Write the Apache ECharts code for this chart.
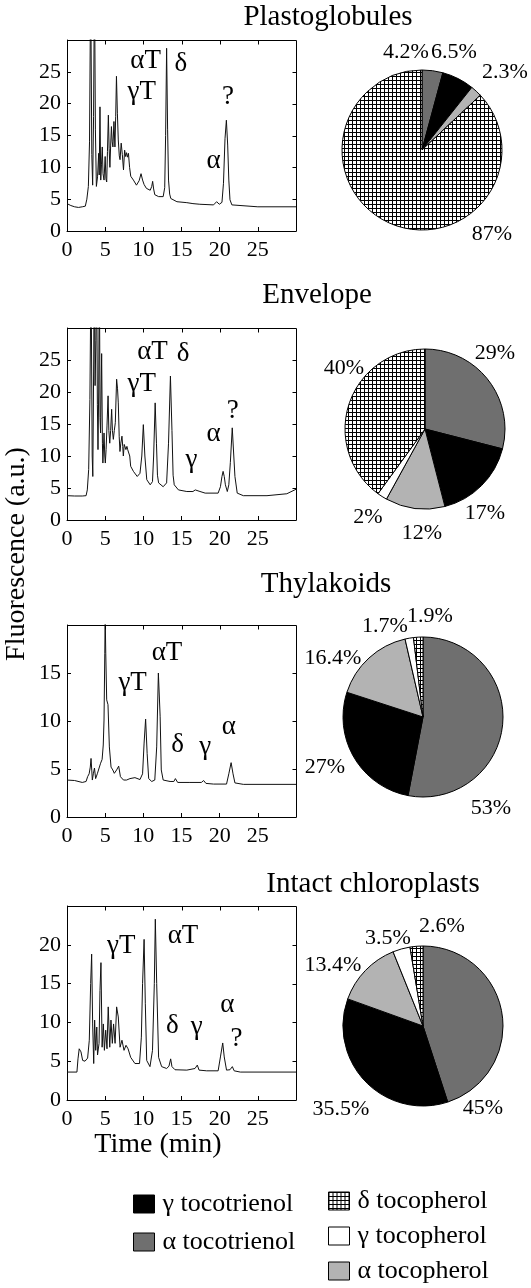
<!DOCTYPE html>
<html><head><meta charset="utf-8">
<script src="https://cdn.jsdelivr.net/npm/echarts@6/dist/echarts.min.js"></script>
<style>html,body{margin:0;padding:0;background:#fff}#c{width:531px;height:1288px}</style>
</head><body><div id="c"></div>
<script>
// ---------- DATA ----------
const componentNames = ['α tocotrienol','γ tocotrienol','α tocopherol','γ tocopherol','δ tocopherol'];
const panelTitles = ['Plastoglobules','Envelope','Thylakoids','Intact chloroplasts'];
const yAxisTitle = 'Fluorescence (a.u.)';
const xAxisTitle = 'Time (min)';
const legendLeft = ['γ tocotrienol','α tocotrienol'];
const legendRight = ['δ tocopherol','γ tocopherol','α tocopherol'];
const xTickValues = [5,10,15,20,25];

// percentages, order as componentNames (null = absent)
const pie1 = [4.2, 6.5, 2.3, null, 87];
const pie2 = [29, 17, 12, 2, 40];
const pie3 = [53, 27, 16.4, 1.7, 1.9];
const pie4 = [45, 35.5, 13.4, 3.5, 2.6];

// chromatograms [time (min), fluorescence]
const trace1 = [[0,4.3],[0.5,4.0],[1,3.8],[1.5,3.7],[2,3.8],[2.4,3.9],[2.6,5.0],[2.8,7.0],[2.95,14],[3.1,40],[3.25,12],[3.36,7.2],[3.48,18],[3.6,40],[3.72,16],[3.85,7.0],[4.0,8.5],[4.15,12.2],[4.22,8.8],[4.32,19.5],[4.42,8.0],[4.52,10.5],[4.62,13.2],[4.72,9.0],[4.85,8.0],[5.0,11.7],[5.1,8.2],[5.2,7.7],[5.3,12.5],[5.42,18.2],[5.52,13],[5.62,10.0],[5.72,13.5],[5.82,16.4],[5.92,14.0],[6.02,13.2],[6.15,17.2],[6.28,13.2],[6.38,18],[6.48,24.3],[6.6,18.5],[6.72,14.3],[6.85,11.8],[6.95,11.2],[7.1,13.8],[7.25,12.0],[7.4,9.6],[7.55,12.7],[7.68,11.7],[7.8,12.3],[7.92,11.6],[8.05,12.2],[8.2,10],[8.35,8.6],[8.7,8.0],[9.1,7.2],[9.45,7.9],[9.7,9.0],[9.9,8.0],[10.1,7.3],[10.4,6.7],[10.9,6.4],[11.1,7.0],[11.22,7.8],[11.35,6.6],[11.5,5.7],[12.0,5.4],[12.6,5.4],[12.8,6.8],[12.92,15],[13.05,28.7],[13.18,16],[13.3,8.0],[13.45,5.8],[13.6,5.1],[14.4,4.6],[15.7,4.45],[16.5,4.3],[17.4,4.2],[19.2,4.1],[19.6,4.6],[19.95,4.2],[20.3,4.5],[20.5,7.5],[20.7,14.5],[20.88,17.4],[21.05,13.5],[21.2,8.0],[21.35,4.9],[21.6,4.1],[21.8,3.9],[25,3.8],[30,3.8]];
const trace2 = [[0,3.8],[1,3.75],[2,3.75],[2.5,3.8],[2.66,4.7],[2.84,7.9],[3.0,18.8],[3.15,40],[3.3,10],[3.38,6.8],[3.5,25],[3.56,40],[3.68,21],[3.78,28],[3.88,40],[3.98,18],[4.06,11],[4.15,20],[4.24,40],[4.33,16],[4.4,13.6],[4.54,26],[4.64,12],[4.7,8.9],[4.85,13.6],[4.95,10],[5.02,8.9],[5.12,11],[5.24,14.7],[5.38,19.4],[5.48,14],[5.6,12],[5.72,14],[5.85,17.3],[5.95,14],[6.07,12.6],[6.2,14],[6.33,15.2],[6.5,22],[6.62,20.5],[6.72,18.3],[6.84,13],[6.94,10.7],[7.05,12],[7.2,13.1],[7.3,11.5],[7.38,10.0],[7.5,11.8],[7.62,12],[7.72,11],[7.85,11.5],[7.95,11],[8.1,11.3],[8.22,10],[8.34,8.4],[8.7,7.6],[9.2,6.8],[9.56,7.3],[9.8,10],[10.0,14.9],[10.2,10],[10.45,6.3],[10.9,5.5],[11.2,6.0],[11.35,10],[11.55,18.3],[11.72,12],[11.85,7],[12.0,5.8],[12.6,5.2],[13.05,5.8],[13.3,12],[13.55,22.5],[13.75,14],[13.9,7],[14.05,5.5],[14.6,4.7],[15.7,4.45],[16.5,4.45],[16.8,4.7],[17.0,5.0],[17.3,4.5],[18.1,4.2],[19.8,4.2],[20.1,5.2],[20.3,6.8],[20.45,7.6],[20.6,6.8],[20.75,5.5],[21.0,4.45],[21.2,5.5],[21.4,9],[21.65,14.4],[21.85,10],[22.0,6.8],[22.3,4.2],[23.1,3.8],[26.2,3.8],[28.8,4.1],[30,4.8]];
const trace3 = [[0,3.85],[1,3.8],[2,3.6],[2.5,3.7],[2.7,4.2],[2.9,4.5],[3.05,5.2],[3.15,6.1],[3.25,4.8],[3.32,3.85],[3.45,4.5],[3.6,5.1],[3.75,4.0],[3.97,4.5],[4.2,4.4],[4.4,5.6],[4.6,6.0],[4.75,7.5],[4.85,10.1],[4.95,17],[5.0,21],[5.08,17],[5.2,12.2],[5.37,11.7],[5.55,7.3],[5.77,5.2],[6.0,4.9],[6.2,4.55],[6.5,4.9],[6.77,5.3],[7.0,4.2],[7.4,3.85],[7.8,3.85],[8.25,4.0],[8.9,4.1],[9.56,3.9],[9.9,4.5],[10.1,7.7],[10.3,10.2],[10.5,6.6],[10.7,4.0],[11.1,3.7],[11.5,3.85],[11.75,7.3],[11.97,15.0],[12.2,10.5],[12.35,4.9],[12.6,3.85],[13.5,3.7],[14.0,3.7],[14.2,4.0],[14.5,3.6],[16.1,3.6],[17.6,3.6],[17.9,3.8],[18.2,3.5],[19.2,3.43],[20.9,3.43],[21.2,4.5],[21.5,5.66],[21.75,4.5],[22.0,3.55],[23.1,3.4],[30,3.4]];
const trace4 = [[0,3.6],[1.3,3.6],[1.44,5.3],[1.6,6.6],[1.83,6.2],[2.05,5.1],[2.36,5.0],[2.7,5.4],[2.92,7.7],[3.1,15],[3.23,18.8],[3.36,9.8],[3.5,4.7],[3.62,10.3],[3.76,6.4],[3.9,9.4],[4.0,5.8],[4.2,7.3],[4.32,14.1],[4.45,17.7],[4.6,6.8],[4.76,9.8],[4.9,6.4],[5.07,9.0],[5.24,6.6],[5.4,12.0],[5.6,6.8],[5.76,10.3],[5.94,7.3],[6.1,9.8],[6.3,7.3],[6.5,12.0],[6.72,10.7],[6.95,6.8],[7.2,7.7],[7.47,6.4],[7.73,7.05],[8.0,6.6],[8.34,5.5],[8.9,4.7],[9.5,4.7],[9.74,8.1],[9.9,15],[10.1,20.7],[10.26,12.4],[10.44,5.1],[10.87,4.3],[11.2,6.4],[11.44,15],[11.57,23.3],[11.75,15],[12.0,5.5],[12.4,4.3],[13.05,4.06],[13.36,4.36],[13.58,5.3],[13.75,4.3],[14.15,3.9],[15.7,3.85],[16.77,4.06],[17.07,4.5],[17.3,3.85],[18.3,3.76],[19.8,3.76],[20.1,5.55],[20.4,7.35],[20.6,5.55],[20.9,3.85],[21.35,3.9],[21.66,4.3],[21.9,3.76],[22.7,3.6],[30,3.6]];

// peak labels
const peakLabels1 = ['αT','δ','γT','?','α'];
const peakLabels2 = ['αT','δ','γT','?','α','γ'];
const peakLabels3 = ['αT','γT','δ','γ','α'];
const peakLabels4 = ['γT','αT','δ','γ','α','?'];

// ---------- LAYOUT / STYLE ----------
const FONT = 'Liberation Serif, Times New Roman, serif';
const panels = [
  {grid:{left:67, top:40, width:229, height:191}, ymax:30, trace:trace1, pie:pie1, center:[422,150],
   peaks:peakLabels1, peakPos:[[10.3,26.7],[14.9,26.2],[9.8,21.9],[21.1,21],[19.2,11]],
   labelPos:[[406,52],[454,52],[505,72],null,[492,234]], title:[323,15]},
  {grid:{left:67, top:328, width:229, height:192}, ymax:30, trace:trace2, pie:pie2, center:[425,429],
   peaks:peakLabels2, peakPos:[[11.2,26.2],[15.2,25.9],[9.8,21.2],[21.7,17],[19.2,13.5],[16.3,9.4]],
   labelPos:[[495,353],[485,513],[422,533],[368,517],[344,368]], title:[312,293]},
  {grid:{left:67, top:625, width:229, height:192}, ymax:20, trace:trace3, pie:pie3, center:[423,717],
   peaks:peakLabels3, peakPos:[[13.1,17.1],[8.6,14],[14.5,7.5],[18.1,7.3],[21.2,9.4]],
   labelPos:[[491,808],[325,767],[333,658],[385,626],[430,616]], title:[321,582]},
  {grid:{left:67, top:906, width:229, height:194}, ymax:25, trace:trace4, pie:pie4, center:[423,1026],
   peaks:peakLabels4, peakPos:[[7.1,19.9],[15.2,21.2],[13.8,9.6],[17,9.4],[21,12.3],[22.2,7.9]],
   labelPos:[[483,1108],[341,1109],[333,965],[388,938],[442,926]], title:[368,882]}
];
const TICK_PX = 4;

function hatchCanvas(){
  const c = document.createElement('canvas'); c.width = 4; c.height = 4;
  const g = c.getContext('2d');
  g.fillStyle = '#fff'; g.fillRect(0,0,4,4);
  g.fillStyle = '#000'; g.fillRect(0,0,4,1); g.fillRect(0,0,1,4);
  return c;
}
const sliceColors = ['#6f6f6f', '#000000', '#b3b3b3', '#ffffff', {image: hatchCanvas(), repeat:'repeat'}];

const chart = echarts.init(document.getElementById('c'), null, {renderer:'canvas'});
const grid = [], xAxis = [], yAxis = [], series = [], title = [];
function axisCommon(){
  return {
    axisLine:{show:true, onZero:false, lineStyle:{color:'#000', width:1}},
    axisTick:{show:true, inside:true, length:TICK_PX, lineStyle:{color:'#000', width:1}},
    splitLine:{show:false}
  };
}
panels.forEach((p, i) => {
  grid.push(p.grid);
  xAxis.push(Object.assign({type:'value', gridIndex:i, position:'bottom', min:0, max:30, interval:5,
    axisLabel:{show:true, showMaxLabel:false, margin:8, color:'#000', fontFamily:FONT, fontSize:22}}, axisCommon()));
  yAxis.push(Object.assign({type:'value', gridIndex:i, position:'left', min:0, max:p.ymax, interval:5,
    axisLabel:{show:true, showMaxLabel:false, margin:6, color:'#000', fontFamily:FONT, fontSize:22}}, axisCommon()));

  series.push({type:'line', xAxisIndex:i, yAxisIndex:i, data:p.trace, showSymbol:false, symbol:'none',
    clip:true, lineStyle:{color:'#111', width:1}, silent:true});
  series.push({type:'scatter', xAxisIndex:i, yAxisIndex:i, symbolSize:0, silent:true,
    itemStyle:{opacity:1},
    data:p.peaks.map((t,k)=>({name:t, value:p.peakPos[k]})),
    label:{show:true, position:'inside', formatter:'{b}', color:'#000', opacity:1, fontFamily:FONT, fontSize:27}});

  const items = [], pos = [];
  componentNames.forEach((n, j) => {
    if (p.pie[j] != null) {
      items.push({name:n, value:p.pie[j], itemStyle:{color:sliceColors[j]}});
      pos.push(p.labelPos[j]);
    }
  });
  series.push({type:'pie', center:p.center, radius:80, startAngle:90, clockwise:true, avoidLabelOverlap:false,
    data:items, itemStyle:{borderColor:'#000', borderWidth:1}, emphasis:{disabled:true},
    label:{show:true, position:'outside', formatter:'{c}%', color:'#000', fontFamily:FONT, fontSize:22},
    labelLine:{show:false},
    labelLayout:(params)=>{ const q = pos[params.dataIndex]; return {x:q[0], y:q[1], align:'center', verticalAlign:'middle'}; }
  });
  title.push({text:panelTitles[i], left:p.title[0], top:p.title[1]-17, textAlign:'center',
    textStyle:{fontFamily:FONT, fontSize:29, fontWeight:'normal', color:'#000'}});
});

const legendCommon = {orient:'vertical', icon:'rect', itemWidth:21, itemHeight:18, selectedMode:false, padding:0,
  textStyle:{fontFamily:FONT, fontSize:26, color:'#000', padding:[0,0,0,3]},
  itemStyle:{borderColor:'#000', borderWidth:1}};

const graphics = [
  {type:'text', x:17, y:554, rotation:Math.PI/2,
    style:{text:yAxisTitle, fill:'#000', font:'28px ' + FONT, align:'center', verticalAlign:'middle'}},
  {type:'text', x:158, y:1145,
    style:{text:xAxisTitle, fill:'#000', font:'28px ' + FONT, align:'center', verticalAlign:'middle'}}
];

chart.setOption({
  animation:false,
  backgroundColor:'#fff',
  title, grid, xAxis, yAxis, series,
  legend:[
    Object.assign({data:legendLeft, left:133, top:1191, itemGap:12}, legendCommon),
    Object.assign({data:legendRight, left:328, top:1188, itemGap:9}, legendCommon)
  ],
  graphic:graphics
});

// plot frame (top and right edges) with inward ticks, positioned through each grid's own scales
const crisp = v => Math.round(v) + 0.5;
panels.forEach((p, i) => {
  const tl = chart.convertToPixel({gridIndex:i}, [0, p.ymax]);
  const br = chart.convertToPixel({gridIndex:i}, [30, 0]);
  const x0 = crisp(tl[0]), y0 = crisp(tl[1]), x1 = crisp(br[0]), y1 = crisp(br[1]);
  const ln = (a,b,c,d) => ({type:'line', z:100, silent:true, shape:{x1:a, y1:b, x2:c, y2:d},
    style:{stroke:'#000', lineWidth:1}});
  graphics.push(ln(x0, y0, x1, y0));
  graphics.push(ln(x1, y0, x1, y1));
  xTickValues.forEach(v => {
    const px = crisp(chart.convertToPixel({gridIndex:i}, [v, p.ymax])[0]);
    graphics.push(ln(px, y0, px, y0 + TICK_PX));
  });
  for (let v = 5; v < p.ymax; v += 5) {
    const py = crisp(chart.convertToPixel({gridIndex:i}, [30, v])[1]);
    graphics.push(ln(x1, py, x1 - TICK_PX, py));
  }
});
chart.setOption({graphic:graphics});
</script>
</body></html>
